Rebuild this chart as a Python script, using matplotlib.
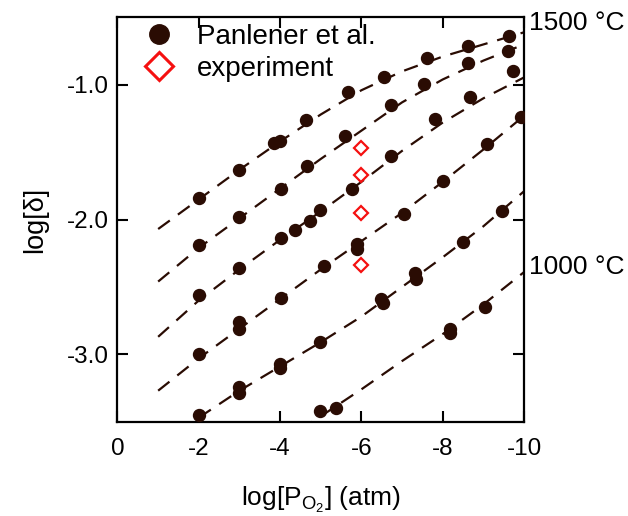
import matplotlib
matplotlib.use("Agg")
import matplotlib.pyplot as plt
from matplotlib.lines import Line2D

plt.rcParams['font.family'] = ['Liberation Sans', 'DejaVu Sans']
plt.rcParams['mathtext.fontset'] = 'custom'
plt.rcParams['mathtext.rm'] = 'Liberation Sans'
plt.rcParams['mathtext.it'] = 'Liberation Sans:italic'

# ---- data: Panlener et al. points (log pO2, log delta) ----
x1500 = [-2.0, -3.0, -3.85, -4.0, -4.64, -5.68, -6.55, -7.62, -8.62, -9.62]
y1500 = [-1.84, -1.63, -1.435, -1.415, -1.26, -1.05, -0.94, -0.80, -0.715, -0.64]
x1400 = [-2.0, -3.0, -4.03, -4.66, -5.6, -6.72, -7.55, -8.62, -9.6]
y1400 = [-2.19, -1.98, -1.77, -1.60, -1.38, -1.15, -0.995, -0.835, -0.75]
x1300 = [-2.0, -3.0, -4.03, -4.37, -4.74, -4.99, -5.78, -6.74, -7.82, -8.68, -9.74]
y1300 = [-2.56, -2.36, -2.14, -2.075, -2.01, -1.93, -1.775, -1.53, -1.255, -1.09, -0.90]
x1200 = [-2.0, -3.0, -3.0, -4.03, -5.08, -5.88, -5.88, -7.05, -8.0, -9.08, -9.93]
y1200 = [-3.00, -2.76, -2.81, -2.58, -2.345, -2.18, -2.22, -1.96, -1.71, -1.44, -1.235]
x1100 = [-2.0, -2.98, -2.98, -4.0, -4.0, -4.97, -6.49, -6.52, -7.32, -7.34, -8.51, -9.46]
y1100 = [-3.45, -3.24, -3.29, -3.07, -3.10, -2.91, -2.59, -2.62, -2.40, -2.44, -2.17, -1.935]
x1000 = [-4.98, -5.38, -8.18, -8.18, -9.05]
y1000 = [-3.42, -3.40, -2.81, -2.84, -2.65]

# experiment
x_exp = [-6.0, -6.0, -6.0, -6.0]
y_exp = [-1.47, -1.67, -1.95, -2.34]

# ---- fitted (dashed) curves ----
cx_a = [-1, -2, -3, -4, -5, -6, -7, -8, -9, -10]
c1500 = [-2.07, -1.85, -1.63, -1.42, -1.22, -1.04, -0.90, -0.79, -0.70, -0.61]
c1400 = [-2.46, -2.21, -1.99, -1.77, -1.55, -1.34, -1.13, -0.96, -0.82, -0.70]
c1300 = [-2.87, -2.60, -2.37, -2.15, -1.94, -1.72, -1.49, -1.28, -1.10, -0.945]
c1200 = [-3.27, -3.03, -2.81, -2.59, -2.37, -2.16, -1.95, -1.72, -1.48, -1.23]
cx_1100 = [-2, -3, -4, -5, -6, -7, -8, -9, -10]
c1100 = [-3.47, -3.27, -3.09, -2.91, -2.72, -2.50, -2.28, -2.05, -1.79]
cx_1000 = [-4.5, -5, -6, -7, -8, -9, -10]
c1000 = [-3.56, -3.46, -3.26, -3.05, -2.85, -2.63, -2.39]

xticks = [0, -2, -4, -6, -8, -10]
xticklabels = ['0', '-2', '-4', '-6', '-8', '-10']
yticks = [-1.0, -2.0, -3.0]
yticklabels = ['-1.0', '-2.0', '-3.0']

brown = '#2a0c03'
red = '#f51010'

fig = plt.figure(figsize=(6.28, 5.16), dpi=100)
ax = fig.add_axes([0.1871, 0.1828, 0.6473, 0.7833])

curves = [(cx_a, c1500), (cx_a, c1400), (cx_a, c1300), (cx_a, c1200),
          (cx_1100, c1100), (cx_1000, c1000)]
for cx, cy in curves:
    ax.plot(cx, cy, ls=(0, (6.5, 4.5)), color=brown, lw=1.6, zorder=2)

pts = [(x1500, y1500), (x1400, y1400), (x1300, y1300), (x1200, y1200),
       (x1100, y1100), (x1000, y1000)]
for px, py in pts:
    ax.plot(px, py, ls='none', marker='o', ms=8.6, color=brown, zorder=3)

ax.plot(x_exp, y_exp, ls='none', marker='D', ms=7.4, mfc='none', mec=red,
        mew=1.6, zorder=4)

ax.set_xlim(0, -10)
ax.set_ylim(-3.5, -0.5)
ax.set_xticks(xticks)
ax.set_xticklabels(xticklabels)
ax.set_yticks(yticks)
ax.set_yticklabels(yticklabels)
ax.tick_params(direction='in', length=8, width=1.5, labelsize=17.5,
               top=True, right=True, colors='black')
ax.tick_params(axis='x', pad=12)
ax.tick_params(axis='y', pad=6)
for s in ax.spines.values():
    s.set_linewidth(1.6)

ax.set_xlabel(r'log[P$_{\mathregular{O_2}}$] (atm)', fontsize=19, labelpad=18)
ax.set_ylabel('log[δ]', fontsize=19.5, labelpad=14)

handles = [Line2D([], [], ls='none', marker='o', ms=14, color=brown),
           Line2D([], [], ls='none', marker='D', ms=14, mfc='none', mec=red, mew=2.2)]
ax.legend(handles, ['Panlener et al.', 'experiment'], loc='upper left',
          bbox_to_anchor=(0.068, 0.984), frameon=False, fontsize=20,
          handlelength=1.0, handletextpad=0.87, labelspacing=0.21,
          borderpad=0, borderaxespad=0)

ax.text(1.012, 0.986, '1500 °C', transform=ax.transAxes, fontsize=19,
        va='center', ha='left')
ax.text(1.012, 0.383, '1000 °C', transform=ax.transAxes, fontsize=19,
        va='center', ha='left')

fig.savefig('out.png', dpi=100)
